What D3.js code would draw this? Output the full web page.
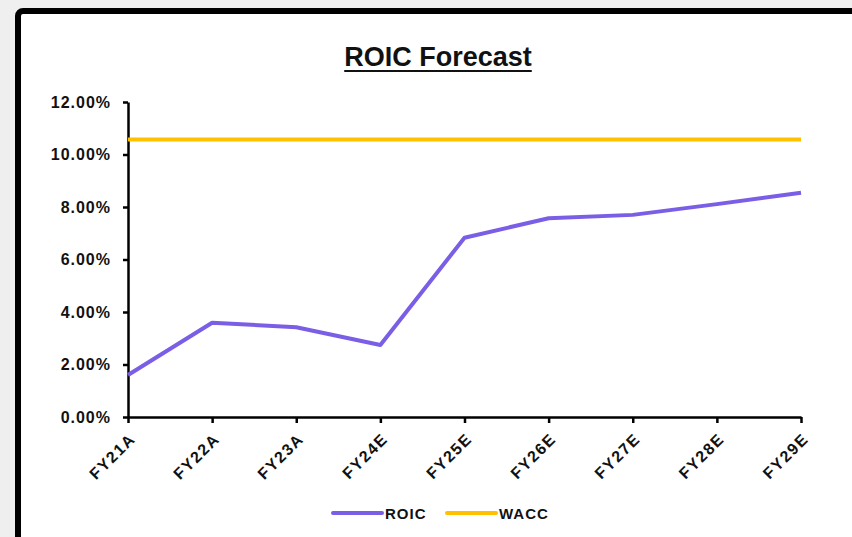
<!DOCTYPE html>
<html>
<head>
<meta charset="utf-8">
<script src="https://cdn.jsdelivr.net/npm/d3@7"></script>
<style>
  html, body { margin: 0; padding: 0; background: #efefef; }
  svg { display: block; }
  text { font-family: "Liberation Sans", Arial, sans-serif; font-weight: bold; fill: #111; }
</style>
</head>
<body>
<svg id="chart" width="852" height="537"></svg>
<script>
// Fiscal years on the x axis
const years = ["FY21A", "FY22A", "FY23A", "FY24E", "FY25E", "FY26E", "FY27E", "FY28E", "FY29E"];
// Return on invested capital per year (fraction)
const roic = [0.0160, 0.0359, 0.0342, 0.0274, 0.0683, 0.0757, 0.0770, 0.0811, 0.0854];
// Weighted average cost of capital, flat across the period
const wacc = [0.1057, 0.1057, 0.1057, 0.1057, 0.1057, 0.1057, 0.1057, 0.1057, 0.1057];
// Y axis tick values
const yTicks = [0, 0.02, 0.04, 0.06, 0.08, 0.10, 0.12];

const seriesList = [
  { name: "ROIC", values: roic, color: "#7b5ee6" },
  { name: "WACC", values: wacc, color: "#ffc000" }
];

const svg = d3.select("#chart");

// Chart panel with thick black frame
svg.append("rect")
  .attr("x", 18).attr("y", 11)
  .attr("width", 860).attr("height", 560)
  .attr("rx", 5)
  .attr("fill", "#ffffff")
  .attr("stroke", "#000").attr("stroke-width", 6);

const x = d3.scalePoint().domain(years).range([128, 801]);
const y = d3.scaleLinear().domain([0, 0.12]).range([417, 102]);

// Title
const title = svg.append("text")
  .attr("x", 438).attr("y", 66)
  .attr("text-anchor", "middle")
  .style("font-size", "27px")
  .text("ROIC Forecast");
const tb = title.node().getBBox();
svg.append("line")
  .attr("x1", tb.x).attr("x2", tb.x + tb.width)
  .attr("y1", 71).attr("y2", 71)
  .attr("stroke", "#111").attr("stroke-width", 2);

// Y axis
const yAxis = svg.append("g")
  .attr("transform", "translate(128,0)")
  .call(d3.axisLeft(y).tickValues(yTicks).tickFormat(d3.format(".2%")).tickSize(5).tickSizeOuter(0));
yAxis.select(".domain").attr("stroke", "#000").attr("stroke-width", 2.5);
yAxis.selectAll(".tick line").attr("stroke", "#000").attr("stroke-width", 2.5);
yAxis.selectAll(".tick text")
  .attr("x", -17)
  .style("font-family", "'Liberation Sans', Arial, sans-serif")
  .style("font-size", "16px").style("font-weight", "bold")
  .style("letter-spacing", "1px")
  .attr("fill", "#111");

// X axis
const xAxis = svg.append("g")
  .attr("transform", "translate(0,417)")
  .call(d3.axisBottom(x).tickSize(6).tickSizeOuter(0));
xAxis.select(".domain").attr("stroke", "#000").attr("stroke-width", 2.5);
xAxis.selectAll(".tick line").attr("stroke", "#000").attr("stroke-width", 2.5);
xAxis.selectAll(".tick text")
  .attr("y", 0).attr("dy", 0)
  .attr("text-anchor", "end")
  .attr("transform", "translate(8,23) rotate(-45)")
  .style("font-family", "'Liberation Sans', Arial, sans-serif")
  .style("font-size", "16px").style("font-weight", "bold")
  .style("letter-spacing", "1.5px")
  .attr("fill", "#111");

// Series lines
const line = d3.line()
  .x((d, i) => x(years[i]))
  .y(d => y(d));

svg.selectAll("path.series")
  .data(seriesList)
  .join("path")
  .attr("class", "series")
  .attr("d", d => line(d.values))
  .attr("fill", "none")
  .attr("stroke", d => d.color)
  .attr("stroke-width", 4)
  .attr("stroke-linejoin", "round");

// Legend
const legendItems = [
  { name: "ROIC", color: "#7b5ee6", x: 333 },
  { name: "WACC", color: "#ffc000", x: 447 }
];
const lg = svg.selectAll("g.legend")
  .data(legendItems)
  .join("g")
  .attr("class", "legend")
  .attr("transform", d => `translate(${d.x},513)`);
lg.append("line")
  .attr("x1", 0).attr("x2", 49)
  .attr("y1", 0).attr("y2", 0)
  .attr("stroke", d => d.color)
  .attr("stroke-width", 4)
  .attr("stroke-linecap", "round");
lg.append("text")
  .attr("x", 52).attr("y", 5.5)
  .style("font-size", "15px")
  .style("letter-spacing", "1px")
  .text(d => d.name);
</script>
</body>
</html>
